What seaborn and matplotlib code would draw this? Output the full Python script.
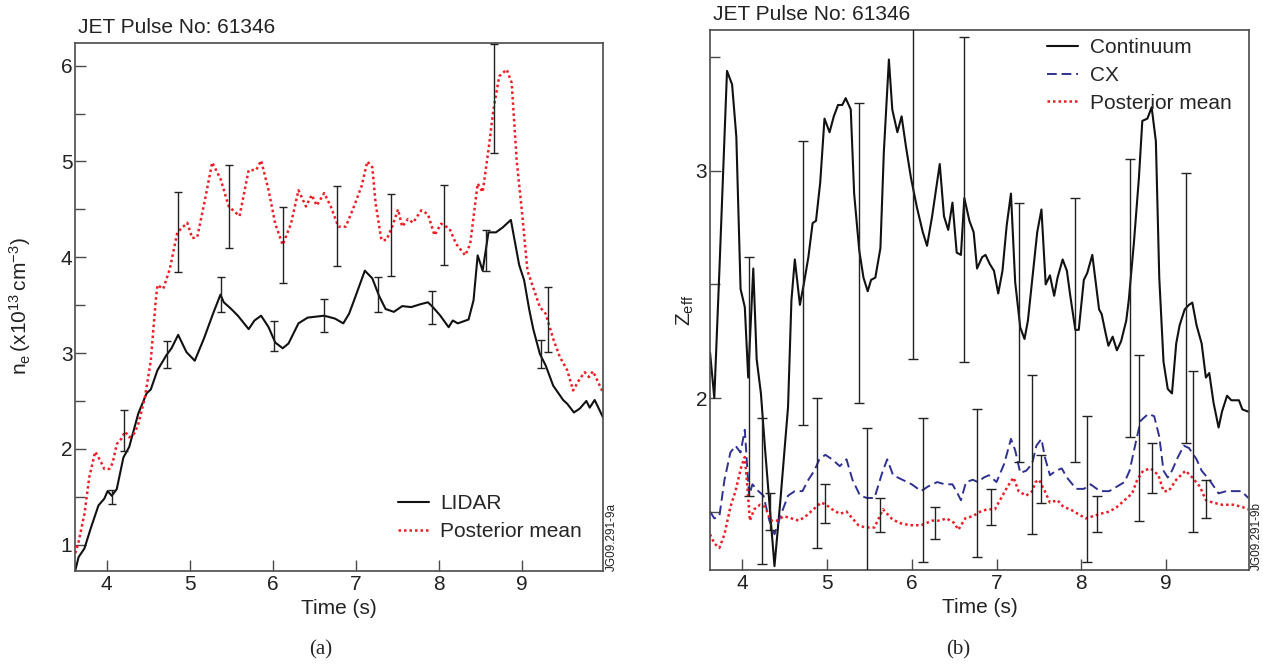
import matplotlib
matplotlib.use("Agg")
import matplotlib.pyplot as plt
from matplotlib.ticker import MultipleLocator
import numpy as np
import pandas as pd
import seaborn as sns

# ---- panel (a): electron density ----
lidar_t = [3.62, 3.66, 3.73, 3.81, 3.90, 3.97, 4.01, 4.06, 4.12, 4.20, 4.27, 4.38, 4.48, 4.53,
           4.61, 4.72, 4.78, 4.86, 4.96, 5.06, 5.17, 5.28, 5.37, 5.41, 5.50, 5.58, 5.71, 5.78,
           5.86, 5.95, 6.03, 6.12, 6.19, 6.31, 6.42, 6.62, 6.75, 6.85, 6.92, 6.98, 7.11, 7.20,
           7.28, 7.36, 7.46, 7.56, 7.67, 7.78, 7.87, 7.93, 8.02, 8.12, 8.17, 8.23, 8.36, 8.42,
           8.47, 8.53, 8.60, 8.69, 8.77, 8.87, 8.97, 9.03, 9.09, 9.14, 9.22, 9.29, 9.38, 9.50,
           9.55, 9.63, 9.70, 9.78, 9.82, 9.88, 9.98]
lidar_ne = [0.73, 0.87, 0.96, 1.18, 1.41, 1.48, 1.56, 1.51, 1.58, 1.91, 2.02, 2.37, 2.58, 2.62,
            2.82, 2.98, 3.05, 3.19, 3.01, 2.92, 3.15, 3.41, 3.61, 3.53, 3.46, 3.39, 3.25, 3.34,
            3.39, 3.27, 3.11, 3.05, 3.10, 3.31, 3.37, 3.39, 3.36, 3.31, 3.41, 3.55, 3.86, 3.78,
            3.60, 3.46, 3.43, 3.49, 3.48, 3.51, 3.53, 3.48, 3.39, 3.27, 3.34, 3.31, 3.35, 3.55,
            4.02, 3.86, 4.26, 4.26, 4.31, 4.39, 3.92, 3.76, 3.46, 3.25, 2.99, 2.87, 2.66, 2.51,
            2.47, 2.38, 2.42, 2.50, 2.43, 2.51, 2.33]

post_t = [3.62, 3.66, 3.73, 3.79, 3.86, 3.92, 3.97, 4.03, 4.07, 4.12, 4.18, 4.22, 4.27, 4.33,
          4.38, 4.46, 4.53, 4.59, 4.61, 4.68, 4.76, 4.85, 4.97, 5.03, 5.09, 5.19, 5.27, 5.37,
          5.47, 5.60, 5.71, 5.80, 5.86, 5.95, 6.03, 6.12, 6.22, 6.31, 6.40, 6.47, 6.53, 6.62,
          6.70, 6.79, 6.88, 6.97, 7.07, 7.14, 7.20, 7.24, 7.31, 7.37, 7.44, 7.51, 7.56, 7.63,
          7.69, 7.79, 7.87, 7.95, 8.03, 8.13, 8.21, 8.32, 8.38, 8.47, 8.53, 8.60, 8.66, 8.73,
          8.82, 8.88, 8.94, 9.01, 9.07, 9.22, 9.29, 9.38, 9.46, 9.55, 9.62, 9.70, 9.76, 9.81,
          9.86, 9.98]
post_ne = [0.91, 1.03, 1.32, 1.71, 1.97, 1.88, 1.79, 1.79, 1.85, 2.05, 2.11, 2.18, 2.12, 2.16,
           2.26, 2.54, 2.92, 3.55, 3.71, 3.67, 3.88, 4.26, 4.36, 4.20, 4.21, 4.63, 4.99, 4.82,
           4.53, 4.43, 4.91, 4.91, 5.01, 4.70, 4.35, 4.13, 4.35, 4.70, 4.53, 4.65, 4.54, 4.67,
           4.53, 4.32, 4.32, 4.51, 4.74, 5.00, 4.94, 4.56, 4.18, 4.18, 4.32, 4.50, 4.32, 4.40,
           4.36, 4.49, 4.45, 4.23, 4.35, 4.30, 4.14, 4.02, 4.14, 4.77, 4.68, 5.12, 5.54, 5.89,
           5.96, 5.82, 5.01, 4.42, 3.86, 3.48, 3.41, 3.15, 2.96, 2.82, 2.61, 2.73, 2.80, 2.75,
           2.81, 2.59]

# error bars (time, low, high)
lidar_err_t = [4.06, 4.21, 4.72, 5.38, 6.02, 6.62, 7.27, 7.92, 8.57, 9.23]
lidar_err_lo = [1.42, 1.98, 2.84, 3.43, 3.02, 3.22, 3.43, 3.30, 3.86, 2.84]
lidar_err_hi = [1.57, 2.41, 3.13, 3.79, 3.33, 3.56, 3.79, 3.65, 4.28, 3.14]
post_err_t = [4.86, 5.47, 6.12, 6.77, 7.43, 8.07, 8.67, 9.32]
post_err_lo = [3.85, 4.10, 3.73, 3.91, 3.80, 3.92, 5.09, 3.01]
post_err_hi = [4.68, 4.96, 4.52, 4.74, 4.66, 4.75, 6.23, 3.69]

# ---- panel (b): Zeff ----
cont_t = [3.62, 3.67, 3.73, 3.82, 3.88, 3.93, 3.98, 4.03, 4.07, 4.13, 4.17, 4.22, 4.27, 4.38,
          4.45, 4.54, 4.58, 4.62, 4.68, 4.73, 4.78, 4.83, 4.87, 4.92, 4.97, 5.03, 5.08, 5.13,
          5.18, 5.22, 5.28, 5.32, 5.38, 5.43, 5.48, 5.52, 5.57, 5.63, 5.67, 5.73, 5.77, 5.83,
          5.88, 5.93, 5.99, 6.06, 6.13, 6.18, 6.24, 6.33, 6.38, 6.43, 6.48, 6.53, 6.58, 6.62,
          6.68, 6.73, 6.77, 6.83, 6.87, 6.92, 6.97, 7.02, 7.07, 7.12, 7.17, 7.22, 7.28, 7.33,
          7.37, 7.48, 7.53, 7.58, 7.63, 7.68, 7.72, 7.78, 7.83, 7.87, 7.93, 7.97, 8.03, 8.07,
          8.13, 8.17, 8.21, 8.24, 8.29, 8.32, 8.37, 8.42, 8.47, 8.53, 8.56, 8.62, 8.68, 8.72,
          8.78, 8.83, 8.88, 8.92, 8.97, 9.02, 9.07, 9.12, 9.16, 9.22, 9.27, 9.31, 9.36, 9.42,
          9.47, 9.51, 9.56, 9.62, 9.66, 9.72, 9.77, 9.86, 9.90, 9.97]
cont_z = [2.20, 2.00, 2.56, 3.44, 3.38, 3.15, 2.48, 2.40, 2.09, 2.57, 2.17, 2.02, 1.77, 1.26,
          1.55, 1.96, 2.43, 2.61, 2.41, 2.51, 2.62, 2.77, 2.78, 2.95, 3.23, 3.17, 3.24, 3.29,
          3.29, 3.32, 3.27, 2.90, 2.65, 2.53, 2.47, 2.52, 2.53, 2.66, 3.08, 3.49, 3.27, 3.17,
          3.24, 3.11, 2.97, 2.84, 2.73, 2.67, 2.80, 3.03, 2.80, 2.74, 2.86, 2.64, 2.63, 2.88,
          2.78, 2.73, 2.57, 2.62, 2.63, 2.59, 2.56, 2.46, 2.56, 2.76, 2.90, 2.51, 2.31, 2.26,
          2.34, 2.73, 2.83, 2.50, 2.54, 2.45, 2.53, 2.61, 2.56, 2.45, 2.30, 2.30, 2.52, 2.55,
          2.63, 2.51, 2.39, 2.37, 2.28, 2.23, 2.27, 2.21, 2.25, 2.34, 2.43, 2.68, 2.97, 3.22,
          3.23, 3.28, 3.13, 2.53, 2.16, 2.04, 2.02, 2.24, 2.32, 2.39, 2.41, 2.42, 2.32, 2.24,
          2.09, 2.11, 1.98, 1.87, 1.94, 2.01, 1.99, 1.99, 1.95, 1.94]

cx_t = [3.62, 3.67, 3.73, 3.79, 3.86, 3.92, 3.98, 4.03, 4.08, 4.12, 4.19, 4.25, 4.32, 4.38,
        4.45, 4.54, 4.62, 4.71, 4.78, 4.85, 4.91, 4.98, 5.06, 5.15, 5.23, 5.30, 5.39, 5.47,
        5.56, 5.65, 5.71, 5.78, 5.89, 6.00, 6.11, 6.19, 6.30, 6.39, 6.48, 6.54, 6.58, 6.64,
        6.72, 6.78, 6.85, 6.91, 7.00, 7.09, 7.17, 7.22, 7.28, 7.35, 7.42, 7.47, 7.53, 7.57,
        7.63, 7.70, 7.77, 7.83, 7.94, 8.03, 8.11, 8.22, 8.33, 8.42, 8.51, 8.57, 8.64, 8.70,
        8.79, 8.86, 8.92, 8.97, 9.02, 9.07, 9.14, 9.21, 9.27, 9.36, 9.42, 9.51, 9.62, 9.71,
        9.80, 9.89, 9.97]
cx_z = [1.50, 1.47, 1.48, 1.64, 1.76, 1.79, 1.76, 1.86, 1.57, 1.62, 1.59, 1.57, 1.46, 1.40,
        1.48, 1.57, 1.59, 1.59, 1.64, 1.68, 1.73, 1.75, 1.73, 1.70, 1.73, 1.64, 1.57, 1.56,
        1.56, 1.67, 1.73, 1.66, 1.64, 1.62, 1.59, 1.61, 1.63, 1.62, 1.62, 1.58, 1.55, 1.63,
        1.64, 1.63, 1.65, 1.66, 1.63, 1.71, 1.82, 1.77, 1.67, 1.68, 1.71, 1.79, 1.82, 1.74,
        1.66, 1.68, 1.69, 1.65, 1.60, 1.60, 1.62, 1.59, 1.59, 1.61, 1.63, 1.68, 1.80, 1.90,
        1.93, 1.92, 1.83, 1.68, 1.65, 1.68, 1.74, 1.79, 1.78, 1.73, 1.68, 1.64, 1.58, 1.59,
        1.59, 1.59, 1.56]

postz_t = [3.62, 3.67, 3.73, 3.79, 3.86, 3.92, 3.99, 4.03, 4.06, 4.09, 4.14, 4.21, 4.27, 4.34,
           4.41, 4.49, 4.58, 4.67, 4.75, 4.84, 4.93, 4.99, 5.06, 5.15, 5.23, 5.30, 5.37, 5.45,
           5.56, 5.66, 5.76, 5.85, 5.98, 6.11, 6.24, 6.33, 6.41, 6.50, 6.55, 6.63, 6.72, 6.81,
           6.89, 6.98, 7.07, 7.13, 7.20, 7.26, 7.35, 7.42, 7.46, 7.50, 7.57, 7.63, 7.72, 7.79,
           7.87, 7.96, 8.05, 8.14, 8.22, 8.33, 8.42, 8.51, 8.60, 8.66, 8.73, 8.82, 8.91, 8.97,
           9.03, 9.12, 9.23, 9.31, 9.40, 9.47, 9.55, 9.66, 9.80, 9.90, 9.97]
postz_z = [1.40, 1.36, 1.34, 1.40, 1.52, 1.59, 1.70, 1.74, 1.61, 1.46, 1.51, 1.53, 1.52, 1.46,
           1.46, 1.48, 1.47, 1.46, 1.48, 1.51, 1.54, 1.53, 1.51, 1.49, 1.50, 1.47, 1.44, 1.43,
           1.43, 1.51, 1.47, 1.45, 1.44, 1.44, 1.46, 1.46, 1.47, 1.45, 1.42, 1.47, 1.48, 1.50,
           1.51, 1.51, 1.57, 1.61, 1.65, 1.59, 1.57, 1.59, 1.63, 1.64, 1.59, 1.54, 1.55, 1.52,
           1.51, 1.49, 1.47, 1.48, 1.49, 1.50, 1.52, 1.55, 1.58, 1.64, 1.68, 1.69, 1.66, 1.59,
           1.59, 1.64, 1.68, 1.65, 1.61, 1.55, 1.54, 1.53, 1.53, 1.52, 1.51]

cont_err_t = [4.08, 4.72, 5.38, 6.02, 6.62, 7.27, 7.93, 8.57, 9.23]
cont_err_lo = [1.57, 1.88, 1.98, 2.17, 2.16, 1.72, 1.72, 1.83, 1.80]
cont_err_hi = [2.62, 3.13, 3.30, 3.95, 3.59, 2.86, 2.88, 3.05, 2.99]
cx_err_t = [4.23, 4.88, 5.47, 6.13, 6.77, 7.42, 8.07, 8.68, 9.32]
cx_err_lo = [1.27, 1.34, 1.22, 1.28, 1.30, 1.40, 1.28, 1.46, 1.41]
cx_err_hi = [1.91, 2.00, 1.87, 1.91, 1.95, 2.10, 1.92, 2.19, 2.12]
pz_err_t = [4.33, 4.98, 5.63, 6.27, 6.93, 7.53, 8.18, 8.83, 9.47]
pz_err_lo = [1.42, 1.45, 1.41, 1.38, 1.44, 1.54, 1.41, 1.58, 1.47]
pz_err_hi = [1.58, 1.62, 1.56, 1.52, 1.60, 1.75, 1.57, 1.80, 1.64]

sns.set_style("ticks")
plt.rcParams["font.family"] = ["Liberation Sans", "DejaVu Sans"]
plt.rcParams["mathtext.default"] = "regular"

BLACK = "#111111"
RED = "#ee1c24"
BLUE = "#2e3192"
AXC = "#4a4a4a"
DOT = (0, (1.0, 1.2))
DASH = (0, (5, 2.5))

fig = plt.figure(figsize=(12.63, 6.64), dpi=100)
ax1 = fig.add_axes([0.0596, 0.1408, 0.4178, 0.7949])
ax2 = fig.add_axes([0.5622, 0.1423, 0.4268, 0.8125])


def add_err(ax, t, lo, hi, cap):
    lo = np.array(lo)
    hi = np.array(hi)
    mid = (lo + hi) / 2
    ax.errorbar(t, mid, yerr=[mid - lo, hi - mid], fmt="none", ecolor="#222222",
                elinewidth=1.0, capsize=cap, capthick=1.0, zorder=4)


# panel (a)
df_lidar = pd.DataFrame({"t": lidar_t, "ne": lidar_ne})
df_post = pd.DataFrame({"t": post_t, "ne": post_ne})
sns.lineplot(data=df_lidar, x="t", y="ne", ax=ax1, color=BLACK, lw=1.5,
             sort=False, estimator=None, label="LIDAR")
sns.lineplot(data=df_post, x="t", y="ne", ax=ax1, color=RED, lw=1.8, ls=DOT,
             sort=False, estimator=None, label="Posterior mean")
add_err(ax1, lidar_err_t, lidar_err_lo, lidar_err_hi, 3)
add_err(ax1, post_err_t, post_err_lo, post_err_hi, 3)
ax1.set_xlim(3.62, 9.98)
ax1.set_ylim(0.73, 6.24)
ax1.yaxis.set_major_locator(MultipleLocator(1))
ax1.yaxis.set_minor_locator(MultipleLocator(0.5))
ax1.xaxis.set_major_locator(MultipleLocator(1))
ax1.set_ylabel(r"$n_e\,(x10^{13}\,cm^{-3})$", fontsize=15, color="#222222")
ax1.yaxis.set_label_coords(-0.08, 0.5)
ax1.legend(loc="lower left", bbox_to_anchor=(0.611, 0.055), frameon=False, fontsize=15,
           handlelength=1.5, handletextpad=0.55, labelspacing=0.45, borderpad=0,
           borderaxespad=0)

# panel (b)
df_cont = pd.DataFrame({"t": cont_t, "z": cont_z})
df_cx = pd.DataFrame({"t": cx_t, "z": cx_z})
df_pz = pd.DataFrame({"t": postz_t, "z": postz_z})
sns.lineplot(data=df_cont, x="t", y="z", ax=ax2, color=BLACK, lw=1.5,
             sort=False, estimator=None, label="Continuum")
sns.lineplot(data=df_cx, x="t", y="z", ax=ax2, color=BLUE, lw=1.4, ls=DASH,
             sort=False, estimator=None, label="CX")
sns.lineplot(data=df_pz, x="t", y="z", ax=ax2, color=RED, lw=1.8, ls=DOT,
             sort=False, estimator=None, label="Posterior mean")
add_err(ax2, cont_err_t, cont_err_lo, cont_err_hi, 3.5)
add_err(ax2, cx_err_t, cx_err_lo, cx_err_hi, 3.5)
add_err(ax2, pz_err_t, pz_err_lo, pz_err_hi, 3.5)
ax2.set_xlim(3.62, 9.98)
ax2.set_ylim(1.245, 3.62)
ax2.yaxis.set_major_locator(MultipleLocator(1))
ax2.yaxis.set_minor_locator(MultipleLocator(0.5))
ax2.xaxis.set_major_locator(MultipleLocator(1))
ax2.set_ylabel(r"$Z_{eff}$", fontsize=15, color="#222222")
ax2.yaxis.set_label_coords(-0.026, 0.48)
ax2.legend(loc="upper left", bbox_to_anchor=(0.625, 0.985), frameon=False, fontsize=15,
           handlelength=1.5, handletextpad=0.55, labelspacing=0.42, borderpad=0,
           borderaxespad=0)

for ax in (ax1, ax2):
    ax.set_xlabel("Time (s)", fontsize=15, color="#222222", labelpad=4)
    for s in ax.spines.values():
        s.set_visible(True)
        s.set_color(AXC)
        s.set_linewidth(1.2)
    ax.tick_params(which="both", direction="in", top=False, right=False,
                   colors=AXC, labelcolor="#222222", labelsize=15, width=1.0)
    ax.tick_params(which="major", length=8, pad=3)
    ax.tick_params(which="minor", length=7)
    ax.tick_params(axis="y", pad=2)

fig.text(0.0617, 0.958, "JET Pulse No: 61346", fontsize=15, color="#222222", va="center")
fig.text(0.5645, 0.978, "JET Pulse No: 61346", fontsize=15, color="#222222", va="center")
fig.text(0.4795, 0.1408, "JG09.291-9a", fontsize=8.5, rotation=90, color="#222222",
         ha="left", va="bottom")
fig.text(0.9905, 0.1423, "JG09.291-9b", fontsize=8.5, rotation=90, color="#222222",
         ha="left", va="bottom")
fig.text(0.254, 0.021, "(a)", fontsize=15, family="Liberation Serif", ha="center", va="center")
fig.text(0.759, 0.021, "(b)", fontsize=15, family="Liberation Serif", ha="center", va="center")

fig.savefig("out.png", dpi=100)
